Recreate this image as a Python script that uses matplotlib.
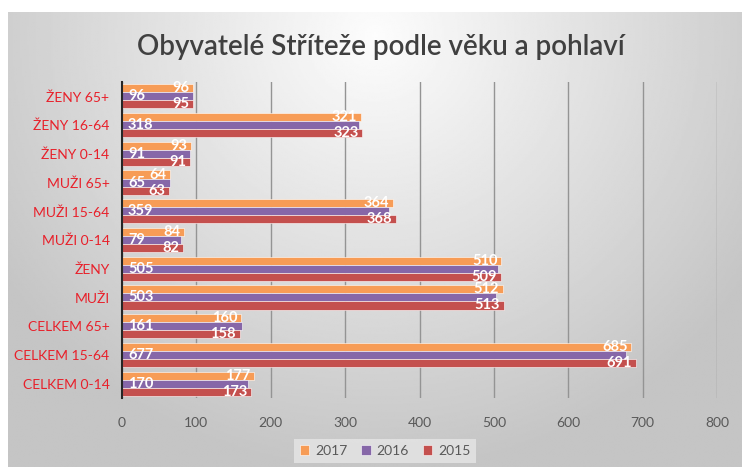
import numpy as np
import matplotlib
matplotlib.use("Agg")
import matplotlib.pyplot as plt

plt.rcParams['font.family'] = ['Lato', 'DejaVu Sans']

categories = ['CELKEM 0-14', 'CELKEM 15-64', 'CELKEM 65+', 'MUŽI', 'ŽENY',
              'MUŽI 0-14', 'MUŽI 15-64', 'MUŽI 65+', 'ŽENY 0-14', 'ŽENY 16-64', 'ŽENY 65+']
v2017 = [177, 685, 160, 512, 510, 84, 364, 64, 93, 321, 96]
v2016 = [170, 677, 161, 503, 505, 79, 359, 65, 91, 318, 96]
v2015 = [173, 691, 158, 513, 509, 82, 368, 63, 91, 323, 95]
xticks = [0, 100, 200, 300, 400, 500, 600, 700, 800]

c2017 = '#F79C56'
c2016 = '#8667A8'
c2015 = '#C4504E'

W, H = 745, 468
fig = plt.figure(figsize=(W / 100, H / 100), dpi=100)

# background with radial gradient
bg = fig.add_axes([8 / W, 1 - 467 / H, 734 / W, 455 / H])
yy, xx = np.mgrid[0:1:300j, 0:1:400j]
r = np.sqrt(((xx - 0.5) / 0.7) ** 2 + ((yy - 0.05) / 1.1) ** 2)
shade = np.clip(0.99 - 0.25 * r, 0.77, 1.0)
bg.imshow(shade, cmap='gray', vmin=0, vmax=1, aspect='auto', extent=[0, 1, 1, 0])
bg.set_axis_off()

ax = fig.add_axes([122 / W, 1 - 398 / H, 595 / W, 316 / H])
ax.patch.set_alpha(0)
y = np.arange(len(categories))
h = 0.28
ax.barh(y + h, v2017, height=h, color=c2017, edgecolor='white', linewidth=0.4, label='2017', zorder=3)
ax.barh(y, v2016, height=h, color=c2016, edgecolor='white', linewidth=0.4, label='2016', zorder=3)
ax.barh(y - h, v2015, height=h, color=c2015, edgecolor='white', linewidth=0.4, label='2015', zorder=3)

lab = dict(color='white', fontsize=10.5, fontweight='bold', va='center', zorder=4)
for i in range(len(categories)):
    ax.text(v2017[i] - 5, y[i] + h, str(v2017[i]), ha='right', **lab)
    ax.text(8, y[i], str(v2016[i]), ha='left', **lab)
    ax.text(v2015[i] - 5, y[i] - h, str(v2015[i]), ha='right', **lab)

ax.set_xlim(0, 800)
ax.set_ylim(-0.5, 10.5)
ax.set_xticks(xticks)
ax.set_xticklabels([str(t) for t in xticks], color='#595959', fontsize=10)
ax.set_yticks(y)
ax.set_yticklabels(categories, color='#E8202A', fontsize=10)
ax.tick_params(axis='x', length=0, pad=14)
ax.tick_params(axis='y', length=0, pad=9)
ax.grid(axis='x', color='#949494', linewidth=1, zorder=0)
for s in ['top', 'right', 'bottom']:
    ax.spines[s].set_visible(False)
ax.spines['left'].set_color('#262626')
ax.spines['left'].set_linewidth(1.5)
ax.spines['left'].set_zorder(5)

fig.text(381 / W, 1 - 47 / H, 'Obyvatelé Stříteže podle věku a pohlaví',
         ha='center', va='center', fontsize=20, fontweight='semibold', color='#404040')

leg = fig.legend(loc='center', bbox_to_anchor=(385 / W, 1 - 451 / H), ncol=3,
                 frameon=True, fontsize=10, handlelength=0.7, handleheight=0.7,
                 handletextpad=0.4, columnspacing=1.0, borderpad=0.4, fancybox=False)
leg.get_frame().set_facecolor('#E6E6E6')
leg.get_frame().set_edgecolor('none')
for t in leg.get_texts():
    t.set_color('#595959')

fig.savefig('out.png', dpi=100)
